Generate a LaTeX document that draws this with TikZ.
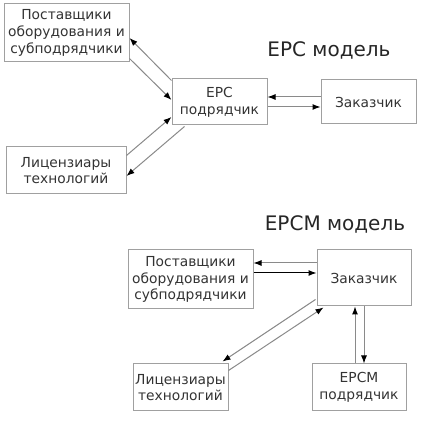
\documentclass[tikz,border=0pt]{standalone}
\usepackage{fontspec}
\setmainfont{DejaVu Sans}
\usetikzlibrary{arrows.meta,calc}
\definecolor{boxline}{HTML}{A0A0A0}
\definecolor{txt}{HTML}{333333}
\definecolor{conn}{HTML}{8A8A8A}
\tikzset{
  box/.style={draw=boxline, line width=1pt, text=txt, align=center, inner sep=0pt,
    font=\fontsize{13.8}{16.7}\selectfont},
  ttl/.style={text=black!85, font=\fontsize{20}{23}\selectfont, inner sep=0pt},
  arr/.style={draw=conn, line width=1pt, -{Latex[length=8pt,width=6pt,color=black]}},
}
\begin{document}
\begin{tikzpicture}[x=1pt,y=-1pt]
\useasboundingbox (0,0) rectangle (424,422);
% top
\node[box, minimum width=125pt, minimum height=58pt] (ps1) at (66.5,33) {Поставщики\\оборудования и\\субподрядчики};
\node[box, minimum width=120pt, minimum height=47pt] (lic1) at (66,170.5) {Лицензиары\\технологий};
\node[box, minimum width=95pt, minimum height=46pt] (epc) at (219.5,102) {EPC\\подрядчик};
\node[box, minimum width=95pt, minimum height=44pt] (cust1) at (368.5,102) {Заказчик};
\node[ttl] (t1) at (329,50) {EPC модель};
\draw[arr] ($(epc.north west)+(0,2)$) -- ($(ps1.east)+(0,5)$);
\draw[arr] ($(ps1.south east)+(0,-4)$) -- ($(epc.west)+(0,-2)$);
\draw[arr] ($(lic1.north east)+(0,9)$) -- ($(epc.west)+(0,15)$);
\draw[arr] ($(epc.south west)+(13,1)$) -- ($(lic1.east)+(0,5.5)$);
\draw[arr] ($(cust1.west)+(0,-5)$) -- ($(epc.east)+(0,-5)$);
\draw[arr] ($(epc.east)+(0,5)$) -- ($(cust1.west)+(0,5)$);
% bottom
\node[box, minimum width=125pt, minimum height=59pt] (ps2) at (190.5,279.5) {Поставщики\\оборудования и\\субподрядчики};
\node[box, minimum width=94pt, minimum height=56pt] (cust2) at (364,278) {Заказчик};
\node[box, minimum width=95pt, minimum height=47pt] (lic2) at (180.5,387.5) {Лицензиары\\технологий};
\node[box, minimum width=94pt, minimum height=47pt] (epcm) at (359,387.5) {EPCM\\подрядчик};
\node[ttl] (t2) at (335,224) {EPCM модель};
\draw[arr] ($(cust2.west)+(0,-15)$) -- ($(ps2.east)+(0,-16.5)$);
\draw[arr, draw=black] ($(ps2.east)+(0,-6.5)$) -- ($(cust2.west)+(0,-5)$);
\draw[arr] ($(cust2.south west)+(-1,-7)$) -- ($(lic2.north east)+(-6,-2)$);
\draw[arr] ($(lic2.north east)+(0,7)$) -- ($(cust2.south west)+(7,1)$);
\draw[arr] ($(epcm.north)+(-4,0)$) -- ($(cust2.south)+(-9,0)$);
\draw[arr] (cust2.south) -- ($(epcm.north)+(5,0)$);
\end{tikzpicture}
\end{document}
